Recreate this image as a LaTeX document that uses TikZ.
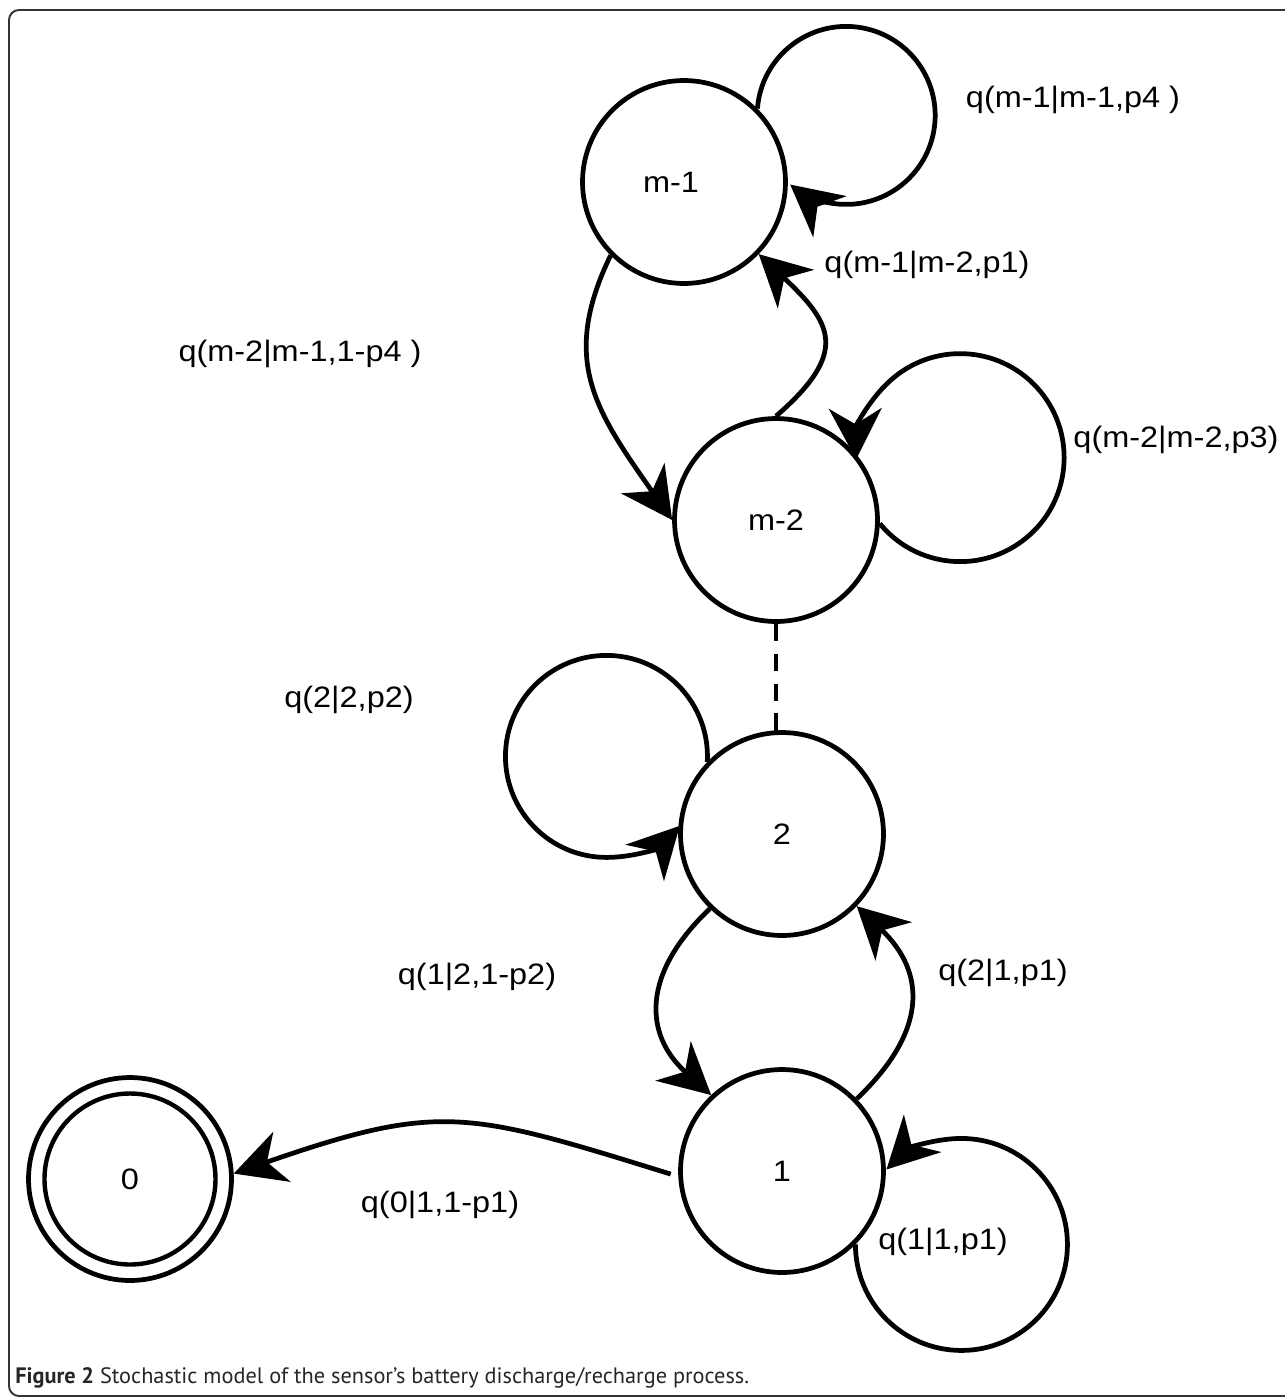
\documentclass[tikz,border=0pt]{standalone}
\usepackage{fontspec}
\setmainfont{Liberation Sans}
\newfontfamily\labfont{Liberation Sans}[FakeStretch=1.1]
\newfontfamily\capfont{PT Sans}
\usetikzlibrary{arrows.meta}
\begin{document}
\begin{tikzpicture}[x=0.02cm,y=0.02cm,
  state/.style={circle,draw,line width=2.7pt,minimum size=4.06cm,inner sep=0pt,font=\labfont\fontsize{16.8}{20}\selectfont},
  lbl/.style={font=\labfont\fontsize{16.8}{20}\selectfont,inner sep=0pt},
  tip/.tip={Stealth[length=29pt,width=30pt,inset=9pt]},
  trans/.style={line width=2.7pt,-tip},
  dotted link/.style={line width=2.7pt,dash pattern=on 10pt off 7pt},
  frame/.style={line width=1.1pt,draw=black!80,rounded corners=5.7pt}
]
\path[use as bounding box] (0,0) rectangle (1285,-1397);
\begin{scope}
\clip (0,0) rectangle (1285,-1397);
\draw[frame] (9,-10) rectangle (1330,-1396);
\end{scope}

% states
\node[state] (m1) at (684,-182) {\hspace*{-0.52cm}m-1};
\node[state] (m2) at (776,-520) {m-2};
\node[state] (n2) at (782,-834) {2};
\node[state] (n1) at (782,-1171) {1};
\node[state] (n0) at (130,-1179) {0};
\draw[line width=2.5pt] (n0.center) circle[radius=85.5];

% self loops
\draw[trans] (m1.45) arc[start angle=175.6, end angle=-129, radius=89];
\draw[trans] (m2.-2) arc[start angle=-140.6, end angle=181, radius=104];
\draw[trans] (n2.136) arc[start angle=-3.1, end angle=316.6, radius=101];
\draw[trans] (n1.-45) arc[start angle=180, end angle=495, radius=106];

% transitions
\draw[trans] (m1.225) .. controls (560,-360) and (595,-410) .. (m2.180);
\draw[trans] (m2.90) .. controls (850,-352) and (832,-323) .. (m1.-44);
\draw[trans] (n2.226) .. controls (642,-973) and (643,-1034) .. (n1.133);
\draw[trans] (n1.44) .. controls (927,-1032) and (927,-973) .. (n2.-44);
\draw[trans, shorten <=4.5pt] (n1.183) .. controls (467,-1111) and (440,-1102) .. (n0.3);
\draw[dotted link, shorten >=-4pt] (m2.south) -- (m2.south |- n2.north);

% labels
\node[lbl] (l1) at (1073,-100) {q(m-1|m-1,p4 )};
\node[lbl] (l2) at (927,-265) {q(m-1|m-2,p1)};
\node[lbl] (l3) at (300,-354) {q(m-2|m-1,1-p4 )};
\node[lbl] (l4) at (1176,-440) {q(m-2|m-2,p3)};
\node[lbl] (l5) at (349,-700) {q(2|2,p2)};
\node[lbl] (l6) at (477,-977) {q(1|2,1-p2)};
\node[lbl] (l7) at (1003,-973) {q(2|1,p1)};
\node[lbl] (l8) at (440,-1205) {q(0|1,1-p1)};
\node[lbl] (l9) at (943,-1242) {q(1|1,p1)};

% caption
\node[anchor=base west, inner sep=0pt, font=\capfont\fontsize{12.7}{15}\selectfont, text=black!85] (cap) at (15,-1383) {\textbf{Figure 2} Stochastic model of the sensor’s battery discharge/recharge process.};
\end{tikzpicture}
\end{document}
